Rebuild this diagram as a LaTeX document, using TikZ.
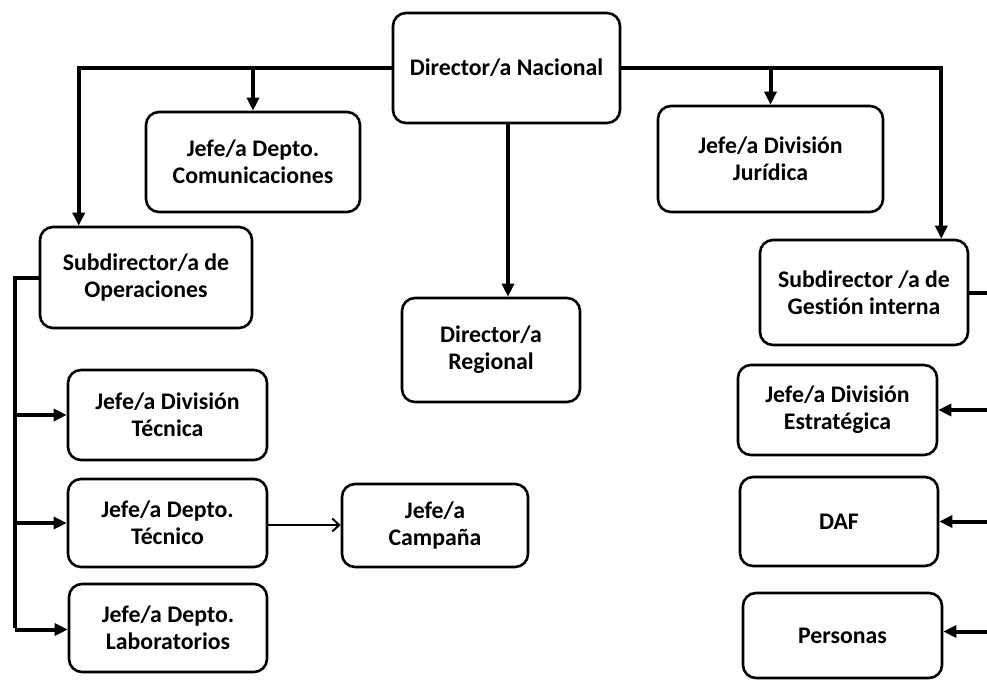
\documentclass[tikz,border=0pt]{standalone}
\usepackage{fontspec}
\setmainfont{Carlito}[Ligatures={NoCommon}]
\usetikzlibrary{arrows.meta}
\begin{document}
\begin{tikzpicture}[x=1pt,y=-1pt,
  box/.style={draw, line width=2.6pt, rounded corners=13pt, align=center,
    inner sep=0pt, font=\fontsize{23.8}{27}\selectfont\bfseries},
  conn/.style={line width=4pt, -{Triangle[length=13pt,width=12pt]}},
  line/.style={line width=4pt},
  thin/.style={line width=2pt, -{Straight Barb[length=7pt,width=13pt]}}]
\useasboundingbox (0,0) rectangle (987,682);
\clip (0,0) rectangle (987,682);
\fill[white] (0,0) rectangle (987,682);

\node[box, minimum width=227pt, minimum height=110pt] (nac) at (506.5,68) {Director/a Nacional};
\node[box, minimum width=214pt, minimum height=100pt] (com) at (253,162) {Jefe/a Depto.\\Comunicaciones};
\node[box, minimum width=225pt, minimum height=106pt] (jur) at (770.5,159) {Jefe/a División\\Jurídica};
\node[box, minimum width=212pt, minimum height=101pt] (ops) at (146,277.5) {Subdirector/a de\\Operaciones};
\node[box, minimum width=178pt, minimum height=104pt] (reg) at (491,350) {Director/a\\Regional};
\node[box, minimum width=208pt, minimum height=105pt] (ges) at (864,292.5) {Subdirector /a de\\Gestión interna};
\node[box, minimum width=199pt, minimum height=90pt] (dtc) at (167.5,415) {Jefe/a División\\Técnica};
\node[box, minimum width=199pt, minimum height=88pt] (dpt) at (167.5,523) {Jefe/a Depto.\\Técnico};
\node[box, minimum width=198pt, minimum height=88pt] (lab) at (168,628) {Jefe/a Depto.\\Laboratorios};
\node[box, minimum width=186pt, minimum height=83pt] (cam) at (435,525.5) {Jefe/a\\Campaña};
\node[box, minimum width=199pt, minimum height=90pt] (est) at (837.5,410) {Jefe/a División\\Estratégica};
\node[box, minimum width=198pt, minimum height=89pt] (daf) at (839,521.5) {DAF};
\node[box, minimum width=199pt, minimum height=85pt] (per) at (842.5,635.5) {Personas};

\coordinate (opsin) at ([xshift=40pt]ops.north west);
\coordinate (gesin) at ([xshift=-28pt]ges.north east);
\coordinate (L) at (15,277.5);
\coordinate (R) at (1000,292.5);

% top
\draw[conn] (nac.west) -| (opsin);
\draw[conn] (com.north |- nac.west) -- (com.north);
\draw[conn] (nac.east) -| (gesin);
\draw[conn] (jur.north |- nac.east) -- (jur.north);
\draw[conn] (nac.south -| 508,0) -- (reg.north -| 508,0);

% left
\draw[line] (ops.west) -- (L) -- (L |- lab.west);
\draw[conn] ([yshift=-1.5pt]L |- lab.west) -- ([yshift=-1.5pt]lab.west);
\draw[conn] (L |- dtc.west) -- (dtc.west);
\draw[conn] (L |- dpt.west) -- (dpt.west);
\draw[thin] ([yshift=-2pt]dpt.east) -- ([yshift=-2pt]dpt.east -| cam.west);

% right
\draw[line] (ges.east) -- (R) -- (R |- per.east);
\draw[conn] (R |- est.east) -- (est.east);
\draw[conn] (R |- daf.east) -- (daf.east);
\draw[conn] ([yshift=4pt]R |- per.east) -- ([yshift=4pt]per.east);
\end{tikzpicture}
\end{document}
